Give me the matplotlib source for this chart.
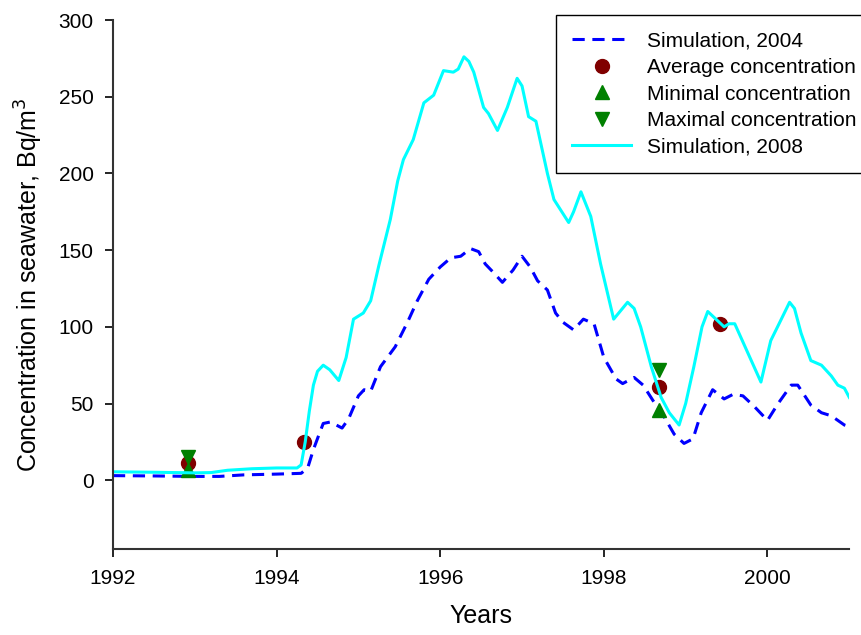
import matplotlib
matplotlib.use("Agg")
import matplotlib.pyplot as plt

plt.rcParams['font.family'] = ['Liberation Sans', 'DejaVu Sans']

# Simulation, 2004 (blue dashed)
sim2004_x = [1992.0, 1992.5, 1993.0, 1993.3, 1993.6, 1994.0, 1994.3, 1994.38, 1994.45,
             1994.52, 1994.57, 1994.66, 1994.8, 1994.88, 1995.0, 1995.07, 1995.15,
             1995.27, 1995.45, 1995.6, 1995.72, 1995.86, 1996.0, 1996.13, 1996.25,
             1996.37, 1996.47, 1996.55, 1996.64, 1996.76, 1996.89, 1997.0, 1997.1,
             1997.19, 1997.31, 1997.41, 1997.5, 1997.63, 1997.75, 1997.88, 1998.0,
             1998.15, 1998.23, 1998.37, 1998.48, 1998.6, 1998.74, 1998.86, 1998.98,
             1999.09, 1999.19, 1999.33, 1999.47, 1999.58, 1999.7, 1999.84, 2000.0,
             2000.13, 2000.29, 2000.37, 2000.53, 2000.66, 2000.78, 2000.94, 2001.0]
sim2004_y = [3, 2.8, 2.5, 2.5, 3.5, 4, 4.5, 8, 20,
             30, 37, 38, 34, 40, 55, 59, 58,
             74, 87, 103, 117, 131, 139, 145, 146,
             151, 149, 141, 136, 129, 137, 146, 139,
             130, 124, 109, 103, 98, 105, 102, 80,
             66, 63, 67, 62, 52, 41, 30, 24,
             27, 44, 59, 53, 56, 55, 48, 39,
             50, 62, 62, 49, 44, 42, 36, 35]

# Simulation, 2008 (cyan solid)
sim2008_x = [1992.0, 1992.5, 1993.0, 1993.2, 1993.4, 1993.7, 1994.0, 1994.25, 1994.3,
             1994.35, 1994.4, 1994.45, 1994.5, 1994.57, 1994.65, 1994.76, 1994.85,
             1994.94, 1995.06, 1995.15, 1995.25, 1995.39, 1995.48, 1995.55, 1995.67,
             1995.8, 1995.92, 1996.04, 1996.16, 1996.22, 1996.29, 1996.35, 1996.41,
             1996.53, 1996.59, 1996.7, 1996.82, 1996.94, 1997.0, 1997.08, 1997.17,
             1997.31, 1997.39, 1997.57, 1997.63, 1997.72, 1997.84, 1997.96, 1998.12,
             1998.29, 1998.37, 1998.45, 1998.58, 1998.7, 1998.8, 1998.92, 1999.0,
             1999.1, 1999.2, 1999.27, 1999.35, 1999.47, 1999.53, 1999.6, 1999.76,
             1999.92, 2000.04, 2000.16, 2000.27, 2000.33, 2000.41, 2000.53, 2000.66,
             2000.78, 2000.86, 2000.94, 2001.0]
sim2008_y = [5.5, 5.2, 4.8, 5, 6.5, 7.5, 8, 8, 10,
             25, 45, 62, 71, 75, 72, 65, 80,
             105, 109, 117, 140, 170, 195, 209, 222,
             246, 251, 267, 266, 268, 276, 273, 266,
             243, 239, 228, 243, 262, 257, 237, 234,
             200, 183, 168, 175, 188, 172, 141, 105,
             116, 112, 100, 74, 54, 44, 36, 50,
             74, 100, 110, 106, 100, 102, 102, 83,
             64, 91, 104, 116, 112, 96, 78, 75,
             68, 62, 60, 54]

# measurements
avg_x = [1992.92, 1994.33, 1998.68, 1999.42]
avg_y = [11, 25, 61, 102]
min_x = [1992.92, 1998.68]
min_y = [7, 46]
max_x = [1992.92, 1998.68]
max_y = [15, 72]

fig = plt.figure(figsize=(8.61, 6.35), dpi=100)
ax = fig.add_axes([0.1312, 0.135, 0.8552, 0.8335])

ax.plot(sim2004_x, sim2004_y, color='#0000ff', lw=2.2, dashes=(4, 2.5),
        label='Simulation, 2004')
ax.plot(avg_x, avg_y, 'o', color='#800000', ms=10, ls='none',
        label='Average concentration')
ax.plot(min_x, min_y, '^', color='#008000', ms=10, ls='none',
        label='Minimal concentration')
ax.plot(max_x, max_y, 'v', color='#008000', ms=10, ls='none',
        label='Maximal concentration')
ax.plot(sim2008_x, sim2008_y, color='#00ffff', lw=2.2, label='Simulation, 2008')

ax.set_xlim(1992, 2001)
ax.set_ylim(-45, 300)
ax.set_xticks([1992, 1994, 1996, 1998, 2000])
ax.set_yticks([0, 50, 100, 150, 200, 250, 300])
ax.tick_params(direction='out', length=6, width=1.2, labelsize=15, pad=8)
for side in ['top', 'right']:
    ax.spines[side].set_visible(False)
for side in ['left', 'bottom']:
    ax.spines[side].set_linewidth(1.5)
    ax.spines[side].set_color('#333333')

ax.set_xlabel('Years', fontsize=18, labelpad=12)
ax.set_ylabel('Concentration in seawater, Bq/m$^3$', fontsize=18, labelpad=10)

leg = fig.legend(loc='upper left', bbox_to_anchor=(555.7 / 861, 1 - 15 / 635),
                 borderaxespad=0, fontsize=15, frameon=True, fancybox=False,
                 edgecolor='black', handlelength=2.8, handletextpad=0.8,
                 labelspacing=0.36, borderpad=0.8, framealpha=1)
leg.get_frame().set_linewidth(1.0)

fig.savefig('out.png', dpi=100)
